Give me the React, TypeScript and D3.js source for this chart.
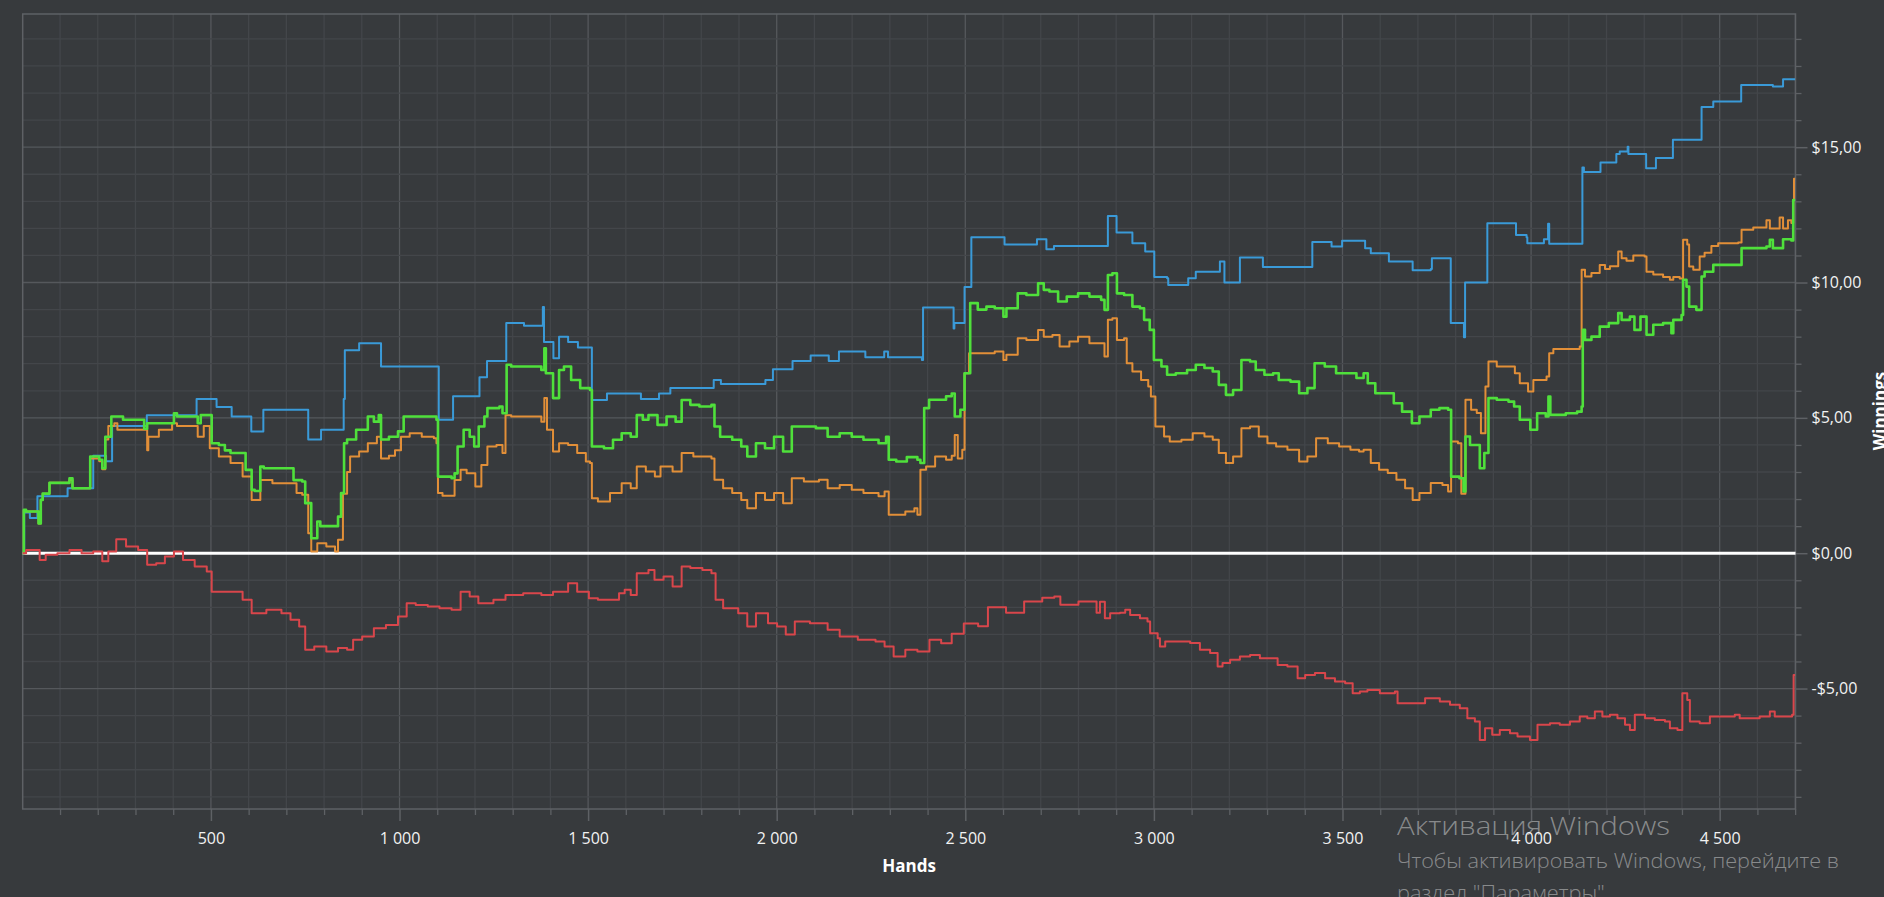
import React, { useEffect, useRef } from 'react';
import * as d3 from 'd3';

type Pt = [number, number];

// hands -> winnings ($)
const showdown: Pt[] = [
    [1, 0], [5, 1.5], [20, 1.3], [40, 2.1], [120, 2.4], [175, 2.4], [188, 3.6], [222, 3.4], [238, 4.7], [325, 4.7], [330, 5.1],
    [460, 5.1], [462, 5.7], [513, 5.7], [515, 5.4], [552, 5.4], [555, 5.05], [605, 5.05], [607, 4.5], [637, 4.5], [639, 5.3],
    [755, 5.3], [758, 4.2], [790, 4.2], [792, 4.56], [848, 4.56], [852, 5.7], [855, 7.5], [885, 7.5], [893, 7.76], [948, 7.76],
    [951, 6.9], [1102, 6.9], [1104, 4.93], [1140, 4.93], [1142, 5.8], [1205, 5.8], [1212, 6.5], [1230, 6.5], [1232, 7.1],
    [1280, 7.1], [1283, 8.5], [1328, 8.5], [1330, 8.4], [1378, 8.4], [1380, 9.1], [1383, 7.8], [1405, 7.8], [1408, 7.2],
    [1415, 7.2], [1423, 8.0], [1440, 8.0], [1447, 7.8], [1470, 7.8], [1473, 7.6], [1505, 7.6], [1510, 5.66], [1540, 5.66],
    [1550, 5.9], [1635, 5.9], [1640, 5.7], [1683, 5.7], [1688, 5.9], [1715, 5.9], [1718, 6.1], [1825, 6.1], [1833, 6.4],
    [1850, 6.4], [1852, 6.25], [1960, 6.25], [1970, 6.4], [1985, 6.4], [1990, 6.8], [2035, 6.8], [2042, 7.1], [2088, 7.1],
    [2090, 7.3], [2135, 7.3], [2138, 7.1], [2158, 7.1], [2165, 7.45], [2230, 7.45], [2235, 7.24], [2280, 7.24], [2285, 7.45],
    [2292, 7.45], [2295, 7.24], [2385, 7.14], [2388, 9.08], [2467, 9.08], [2469, 8.3], [2471, 8.5], [2495, 8.5], [2498, 9.83],
    [2513, 9.83], [2516, 11.67], [2601, 11.67], [2604, 11.4], [2685, 11.4], [2690, 11.6], [2705, 11.6], [2715, 11.23],
    [2730, 11.23], [2735, 11.35], [2875, 11.35], [2878, 12.46], [2898, 12.46], [2901, 11.85], [2936, 11.85], [2943, 11.45],
    [2974, 11.45], [2977, 11.15], [2997, 11.15], [3001, 10.2], [3035, 10.16], [3038, 9.91], [3088, 9.91], [3091, 10.16],
    [3108, 10.16], [3111, 10.4], [3170, 10.4], [3175, 10.78], [3182, 10.78], [3187, 10.0], [3222, 10.0], [3228, 10.92],
    [3283, 10.92], [3289, 10.57], [3410, 10.57], [3420, 11.5], [3468, 11.5], [3471, 11.33], [3496, 11.33], [3499, 11.54],
    [3556, 11.54], [3560, 11.27], [3570, 11.27], [3575, 11.08], [3620, 11.08], [3623, 10.78], [3683, 10.78], [3686, 10.45],
    [3734, 10.5], [3737, 10.9], [3785, 10.9], [3787, 8.5], [3816, 8.5], [3822, 7.98], [3825, 10.0], [3882, 10.0],
    [3884, 12.19], [3957, 12.19], [3960, 11.76], [3988, 11.67], [3990, 11.45], [4032, 11.45], [4034, 11.6], [4044, 11.6],
    [4045, 12.17], [4048, 11.43], [4134, 11.43], [4136, 14.25], [4140, 14.08], [4182, 14.08], [4184, 14.43], [4217, 14.43],
    [4226, 14.75], [4235, 14.84], [4253, 14.84], [4256, 15.02], [4258, 14.75], [4301, 14.75], [4305, 14.22], [4328, 14.22],
    [4331, 14.6], [4372, 14.6], [4376, 15.27], [4447, 15.27], [4452, 16.48], [4478, 16.48], [4483, 16.69], [4553, 16.69],
    [4557, 17.3], [4637, 17.3], [4641, 17.24], [4663, 17.24], [4668, 17.51], [4700, 17.51],
];

const allInAdj: Pt[] = [
    [1, 0], [4, 1.6], [10, 1.54], [38, 1.54], [43, 1.1], [49, 1.97], [54, 2.2], [70, 2.2], [72, 2.6], [117, 2.6], [125, 2.7],
    [133, 2.4], [172, 2.4], [180, 3.5], [204, 3.4], [212, 3.1], [220, 4.2], [228, 4.7], [244, 4.8], [252, 4.56], [315, 4.56],
    [331, 3.8], [334, 4.3], [362, 4.56], [386, 4.56], [397, 4.8], [410, 4.7], [457, 4.7], [465, 4.3], [481, 4.7], [497, 3.88],
    [521, 3.57], [552, 3.33], [584, 2.83], [608, 1.97], [631, 2.7], [663, 2.58], [695, 2.58], [727, 2.22], [742, 2.16],
    [758, 0.74], [766, 0.06], [782, 0.37], [806, 0.25], [829, 0.06], [837, 0.5], [850, 2.2], [861, 3.0], [869, 3.57],
    [893, 3.76], [916, 4.06], [940, 4.3], [951, 3.5], [972, 3.6], [988, 3.8], [1004, 4.3], [1027, 4.43], [1059, 4.3],
    [1091, 4.25], [1098, 4.06], [1102, 2.22], [1114, 2.12], [1138, 2.12], [1146, 2.7], [1162, 3.08], [1178, 2.95],
    [1201, 2.46], [1217, 3.26], [1233, 3.94], [1257, 4.0], [1273, 3.7], [1281, 5.1], [1296, 5.05], [1360, 5.05], [1376, 4.86],
    [1384, 5.73], [1391, 4.56], [1407, 3.76], [1423, 4.06], [1447, 4.0], [1471, 3.7], [1494, 3.39], [1505, 3.33], [1510, 2.03],
    [1526, 1.91], [1558, 2.22], [1589, 2.58], [1613, 2.4], [1629, 3.2], [1653, 3.02], [1677, 2.83], [1692, 3.2], [1724, 3.02],
    [1748, 3.7], [1779, 3.57], [1827, 3.5], [1835, 2.71], [1858, 2.4], [1882, 2.22], [1906, 1.97], [1922, 1.66], [1945, 2.22],
    [1969, 1.97], [1993, 2.22], [2017, 1.85], [2040, 2.77], [2072, 2.65], [2112, 2.71], [2135, 2.4], [2167, 2.52], [2199, 2.34],
    [2230, 2.22], [2270, 2.1], [2286, 2.28], [2297, 1.42], [2317, 1.42], [2341, 1.54], [2365, 1.66], [2373, 1.42], [2381, 3.08],
    [2396, 3.2], [2420, 3.57], [2449, 3.45], [2464, 3.6], [2472, 4.37], [2480, 3.5], [2492, 3.82], [2498, 6.65], [2510, 7.39],
    [2540, 7.39], [2578, 7.45], [2601, 7.14], [2609, 7.33], [2639, 7.94], [2662, 7.88], [2693, 8.25], [2708, 8.0], [2731, 8.06],
    [2750, 7.64], [2776, 7.82], [2799, 8.0], [2829, 7.76], [2860, 7.76], [2869, 7.27], [2878, 8.62], [2890, 8.68], [2902, 7.88],
    [2921, 7.94], [2928, 7.02], [2943, 6.71], [2966, 6.4], [2985, 6.16], [2992, 5.79], [3004, 4.68], [3027, 4.31], [3042, 4.13],
    [3073, 4.19], [3103, 4.43], [3134, 4.31], [3156, 4.19], [3172, 3.7], [3191, 3.33], [3210, 3.57], [3232, 4.62], [3255, 4.68],
    [3278, 4.31], [3301, 4.06], [3324, 3.94], [3354, 3.82], [3385, 3.39], [3407, 3.57], [3430, 4.25], [3461, 4.06], [3491, 3.94],
    [3521, 3.82], [3544, 3.76], [3556, 3.82], [3575, 3.33], [3597, 3.08], [3620, 2.96], [3643, 2.71], [3666, 2.4], [3686, 1.97],
    [3704, 2.22], [3734, 2.59], [3765, 2.52], [3780, 2.28], [3788, 4.13], [3806, 4.06], [3815, 2.2], [3826, 5.67], [3841, 5.3],
    [3856, 5.18], [3867, 4.43], [3879, 6.16], [3887, 7.08], [3909, 6.9], [3953, 6.9], [3957, 6.65], [3970, 6.28], [3988, 6.28],
    [3992, 5.97], [4006, 6.4], [4041, 6.53], [4048, 7.39], [4059, 7.54], [4120, 7.54], [4129, 7.64], [4134, 10.47], [4143, 10.22],
    [4160, 10.35], [4182, 10.65], [4196, 10.5], [4209, 10.6], [4231, 11.15], [4240, 10.9], [4253, 10.8], [4271, 11.0],
    [4301, 10.96], [4306, 10.4], [4324, 10.3], [4350, 10.2], [4368, 10.1], [4377, 10.2], [4394, 10.15], [4403, 11.58],
    [4414, 11.4], [4419, 10.59], [4430, 10.47], [4447, 10.96], [4460, 11.1], [4478, 11.35], [4496, 11.45], [4549, 11.48],
    [4558, 11.95], [4589, 12.03], [4624, 12.3], [4633, 12.0], [4659, 12.4], [4668, 12.0], [4681, 12.3], [4690, 12.2],
    [4695, 13.05], [4697, 13.83], [4700, 13.83],
];

const netWon: Pt[] = [
    [1, 0], [4, 1.6], [10, 1.54], [38, 1.54], [43, 1.1], [49, 1.97], [54, 2.2], [70, 2.2], [72, 2.6], [117, 2.6], [125, 2.77],
    [133, 2.4], [172, 2.4], [180, 3.57], [204, 3.45], [212, 3.14], [220, 4.3], [236, 5.05], [260, 5.05], [267, 4.93], [315, 4.93],
    [323, 4.6], [331, 4.8], [394, 4.8], [402, 5.17], [410, 5.05], [457, 5.05], [465, 4.8], [473, 5.1], [489, 5.1], [502, 4.06],
    [521, 4.0], [537, 3.8], [552, 3.7], [576, 3.7], [592, 3.08], [608, 2.34], [616, 2.3], [631, 3.2], [640, 3.14], [703, 3.14],
    [719, 2.7], [742, 2.65], [750, 1.85], [766, 0.55], [782, 1.17], [790, 1.0], [829, 1.0], [837, 1.35], [845, 2.22], [853, 4.06],
    [861, 4.2], [885, 4.56], [916, 5.05], [932, 4.86], [945, 5.1], [951, 4.2], [972, 4.3], [996, 4.5], [1011, 5.05], [1090, 5.05],
    [1098, 4.93], [1102, 2.83], [1138, 2.77], [1146, 2.95], [1154, 3.94], [1170, 4.56], [1186, 4.3], [1198, 3.94], [1210, 4.68],
    [1225, 5.05], [1233, 5.36], [1265, 5.42], [1273, 5.17], [1284, 6.96], [1296, 6.9], [1360, 6.9], [1376, 6.77], [1384, 7.57],
    [1388, 6.65], [1407, 5.73], [1423, 6.77], [1436, 6.9], [1455, 6.4], [1479, 6.1], [1505, 6.03], [1510, 3.94], [1542, 3.88],
    [1566, 4.19], [1589, 4.43], [1613, 4.3], [1629, 5.1], [1645, 4.93], [1660, 5.1], [1684, 4.74], [1708, 5.05], [1732, 4.86],
    [1748, 5.66], [1771, 5.48], [1795, 5.42], [1827, 5.48], [1835, 4.68], [1850, 4.3], [1882, 4.19], [1906, 3.94], [1922, 3.57],
    [1945, 4.06], [1969, 3.88], [1993, 4.3], [2017, 3.76], [2040, 4.68], [2072, 4.68], [2104, 4.62], [2135, 4.3], [2167, 4.43],
    [2199, 4.3], [2230, 4.19], [2270, 4.06], [2290, 4.3], [2297, 3.45], [2317, 3.39], [2345, 3.55], [2373, 3.45], [2381, 3.33],
    [2391, 5.36], [2404, 5.67], [2434, 5.67], [2449, 5.8], [2464, 5.9], [2472, 5.05], [2487, 5.3], [2498, 6.65], [2513, 9.24],
    [2533, 9.0], [2556, 9.11], [2578, 9.05], [2601, 8.74], [2609, 9.05], [2639, 9.6], [2662, 9.54], [2693, 9.97], [2708, 9.73],
    [2723, 9.67], [2746, 9.3], [2769, 9.48], [2799, 9.6], [2829, 9.48], [2860, 9.36], [2869, 8.99], [2878, 10.28], [2890, 10.34],
    [2902, 9.6], [2921, 9.54], [2943, 9.11], [2963, 9.05], [2974, 8.62], [2989, 8.25], [3000, 7.14], [3020, 6.9], [3035, 6.59],
    [3058, 6.65], [3088, 6.77], [3111, 6.96], [3134, 6.84], [3156, 6.71], [3172, 6.22], [3191, 5.85], [3210, 6.03], [3232, 7.14],
    [3255, 7.08], [3270, 6.77], [3293, 6.59], [3316, 6.65], [3331, 6.4], [3362, 6.34], [3385, 5.91], [3407, 6.1], [3426, 7.02],
    [3453, 6.9], [3483, 6.65], [3514, 6.65], [3537, 6.47], [3556, 6.65], [3567, 6.28], [3587, 5.91], [3613, 5.91], [3636, 5.54],
    [3658, 5.23], [3684, 4.8], [3704, 5.05], [3734, 5.3], [3757, 5.36], [3780, 5.3], [3788, 2.83], [3810, 2.77], [3821, 2.28],
    [3826, 4.31], [3838, 4.0], [3864, 3.14], [3876, 3.7], [3887, 5.73], [3909, 5.67], [3940, 5.6], [3955, 5.42], [3970, 4.93],
    [3998, 4.56], [4016, 5.17], [4039, 5.05], [4046, 5.79], [4051, 5.11], [4092, 5.17], [4122, 5.23], [4134, 5.42], [4137, 8.25],
    [4143, 7.88], [4160, 8.0], [4182, 8.37], [4206, 8.5], [4231, 8.87], [4240, 8.62], [4262, 8.74], [4274, 8.25], [4290, 8.74],
    [4301, 8.74], [4306, 8.07], [4324, 8.44], [4350, 8.5], [4372, 8.13], [4377, 8.62], [4399, 8.8], [4403, 10.1], [4412, 9.85],
    [4419, 9.11], [4438, 8.99], [4452, 10.22], [4460, 10.4], [4483, 10.65], [4549, 10.65], [4558, 11.27], [4624, 11.33],
    [4633, 11.58], [4641, 11.27], [4663, 11.27], [4668, 11.6], [4690, 11.55], [4695, 13.05], [4700, 13.05],
];

const nonShowdown: Pt[] = [
    [1, 0], [10, 0.12], [30, 0.12], [46, -0.25], [62, -0.06], [93, 0.0], [125, 0.12], [157, 0.0], [188, 0.06], [212, -0.3],
    [228, 0.06], [249, 0.52], [275, 0.25], [307, 0.12], [331, -0.43], [355, -0.37], [378, -0.12], [402, 0.06], [426, -0.25],
    [457, -0.49], [489, -0.68], [502, -1.42], [529, -1.42], [560, -1.42], [584, -1.72], [608, -2.22], [647, -2.09], [687, -2.22],
    [711, -2.46], [734, -2.71], [750, -3.57], [774, -3.45], [806, -3.63], [837, -3.5], [861, -3.57], [877, -3.2], [901, -3.08],
    [932, -2.77], [964, -2.65], [996, -2.34], [1019, -1.85], [1043, -1.91], [1075, -1.97], [1106, -2.03], [1138, -2.09],
    [1162, -1.42], [1186, -1.6], [1209, -1.85], [1249, -1.72], [1281, -1.54], [1328, -1.48], [1376, -1.54], [1407, -1.42],
    [1447, -1.11], [1471, -1.42], [1502, -1.66], [1526, -1.72], [1566, -1.72], [1582, -1.48], [1597, -1.35], [1613, -1.54],
    [1629, -0.74], [1660, -0.62], [1676, -0.98], [1700, -0.86], [1724, -1.23], [1748, -0.49], [1771, -0.55], [1803, -0.62],
    [1827, -0.74], [1838, -1.72], [1858, -2.03], [1898, -2.22], [1922, -2.71], [1945, -2.22], [1977, -2.59], [2001, -2.71],
    [2024, -3.0], [2048, -2.52], [2088, -2.59], [2135, -2.83], [2167, -3.08], [2215, -3.2], [2262, -3.26], [2286, -3.45],
    [2310, -3.82], [2341, -3.57], [2373, -3.63], [2405, -3.2], [2436, -3.33], [2464, -2.98], [2496, -2.6], [2534, -2.7],
    [2560, -2.0], [2608, -2.2], [2656, -1.78], [2704, -1.65], [2736, -1.6], [2752, -1.9], [2800, -1.78], [2848, -2.2],
    [2857, -1.79], [2870, -2.4], [2884, -2.22], [2910, -2.2], [2924, -2.09], [2937, -2.28], [2963, -2.4], [2983, -2.52],
    [2990, -2.96], [3010, -3.14], [3016, -3.45], [3030, -3.26], [3056, -3.26], [3096, -3.32], [3122, -3.57], [3149, -3.69],
    [3169, -4.19], [3182, -4.06], [3202, -3.94], [3228, -3.82], [3255, -3.76], [3281, -3.88], [3314, -3.88], [3328, -4.13],
    [3354, -4.19], [3381, -4.62], [3401, -4.5], [3427, -4.43], [3454, -4.62], [3480, -4.74], [3507, -4.8], [3527, -5.17],
    [3546, -5.11], [3566, -5.05], [3599, -5.17], [3639, -5.11], [3646, -5.54], [3679, -5.54], [3719, -5.36], [3758, -5.48],
    [3785, -5.6], [3811, -5.73], [3831, -6.1], [3851, -6.22], [3864, -6.9], [3878, -6.47], [3897, -6.71], [3917, -6.53],
    [3944, -6.65], [3964, -6.77], [3997, -6.9], [4017, -6.34], [4050, -6.28], [4076, -6.34], [4103, -6.22], [4129, -6.03],
    [4149, -6.1], [4169, -5.85], [4189, -6.03], [4209, -5.97], [4229, -6.1], [4249, -6.34], [4262, -6.53], [4275, -5.97],
    [4302, -6.1], [4328, -6.16], [4355, -6.22], [4368, -6.47], [4388, -6.53], [4401, -5.17], [4414, -5.42], [4421, -6.22],
    [4447, -6.28], [4474, -6.03], [4514, -6.03], [4540, -5.97], [4553, -6.1], [4580, -6.1], [4606, -6.03], [4633, -5.85],
    [4646, -6.03], [4692, -5.97], [4696, -4.5], [4700, -4.5],
];

const handsDomain: [number, number] = [1, 4701];
const winningsDomain: [number, number] = [-9.45, 19.92];
const xLabelTicks = [500, 1000, 1500, 2000, 2500, 3000, 3500, 4000, 4500];
const yLabelTicks = [-5, 0, 5, 10, 15];
const xMinorTicks = d3.range(100, 4701, 100);
const yMinorTicks = d3.range(-9, 20, 1);

const watermark = ['Активация Windows', 'Чтобы активировать Windows, перейдите в', 'раздел "Параметры".'];

const width = 1884;
const height = 897;
const marginLeft = 22.7;
const plotRight = 1795.5;
const marginTop = 14;
const plotBottom = 809;

const bg = '#373a3d';
const minorGrid = '#43464a';
const majorGrid = '#55585c';
const frame = '#5e6165';

const locale = d3.formatLocale({ decimal: ',', thousands: '\u00a0', grouping: [3], currency: ['$', ''], minus: '-' });
const fmtHands = locale.format(',d');
const fmtMoney = locale.format('$,.2f');

const App: React.FC = () => {
    const svgRef = useRef<SVGSVGElement | null>(null);

    useEffect(() => {
        const svg = d3.select(svgRef.current);
        svg.selectAll('*').remove();

        const x = d3.scaleLinear().domain(handsDomain).range([marginLeft, plotRight]);
        const y = d3.scaleLinear().domain(winningsDomain).range([plotBottom, marginTop]);

        svg.append('rect').attr('width', width).attr('height', height).attr('fill', bg);

        // grid
        svg.append('g')
            .selectAll('line')
            .data(xMinorTicks)
            .join('line')
            .attr('x1', d => x(d)).attr('x2', d => x(d))
            .attr('y1', marginTop).attr('y2', plotBottom)
            .attr('stroke', d => d % 500 === 0 ? majorGrid : minorGrid)
            .attr('stroke-width', 1.3);

        svg.append('g')
            .selectAll('line')
            .data(yMinorTicks)
            .join('line')
            .attr('x1', marginLeft).attr('x2', plotRight)
            .attr('y1', d => y(d)).attr('y2', d => y(d))
            .attr('stroke', d => d % 5 === 0 ? majorGrid : minorGrid)
            .attr('stroke-width', 1.3);

        // frame
        svg.append('rect')
            .attr('x', marginLeft).attr('y', marginTop)
            .attr('width', plotRight - marginLeft).attr('height', plotBottom - marginTop)
            .attr('fill', 'none').attr('stroke', frame).attr('stroke-width', 1.5);

        // bottom axis
        svg.append('g')
            .attr('transform', `translate(0, ${plotBottom})`)
            .call(d3.axisBottom(x).tickValues(xMinorTicks.filter(d => d % 500 !== 0)).tickSize(6).tickFormat(() => ''))
            .call(g => g.select('.domain').remove())
            .call(g => g.selectAll('.tick line').attr('stroke', frame).attr('stroke-width', 1.3));

        svg.append('g')
            .attr('transform', `translate(0, ${plotBottom})`)
            .call(d3.axisBottom(x).tickValues(xLabelTicks).tickSize(12).tickPadding(12).tickFormat(d => fmtHands(d as number)))
            .call(g => g.select('.domain').remove())
            .call(g => g.selectAll('.tick line').attr('stroke', frame).attr('stroke-width', 1.5))
            .call(g => g.selectAll('.tick text')
                .attr('fill', '#f2f2f2')
                .attr('font-size', 16)
                .attr('font-family', '"Open Sans", sans-serif'));

        // right axis
        svg.append('g')
            .attr('transform', `translate(${plotRight}, 0)`)
            .call(d3.axisRight(y).tickValues(yMinorTicks.filter(d => d % 5 !== 0)).tickSize(6).tickFormat(() => ''))
            .call(g => g.select('.domain').remove())
            .call(g => g.selectAll('.tick line').attr('stroke', frame).attr('stroke-width', 1.3));

        svg.append('g')
            .attr('transform', `translate(${plotRight}, 0)`)
            .call(d3.axisRight(y).tickValues(yLabelTicks).tickSize(12).tickPadding(4).tickFormat(d => fmtMoney(d as number)))
            .call(g => g.select('.domain').remove())
            .call(g => g.selectAll('.tick line').attr('stroke', frame).attr('stroke-width', 1.5))
            .call(g => g.selectAll('.tick text')
                .attr('fill', '#f2f2f2')
                .attr('font-size', 16)
                .attr('font-family', '"Open Sans", sans-serif'));

        // zero line
        svg.append('line')
            .attr('x1', marginLeft).attr('x2', plotRight)
            .attr('y1', y(0)).attr('y2', y(0))
            .attr('stroke', '#ffffff').attr('stroke-width', 3);

        const line = d3.line<Pt>()
            .curve(d3.curveStepAfter)
            .x(d => x(d[0]))
            .y(d => y(d[1]));

        const series: [Pt[], string, number][] = [
            [showdown, '#3a9ad8', 2],
            [allInAdj, '#e28f38', 2],
            [netWon, '#4fe03b', 2.6],
            [nonShowdown, '#d9464b', 2],
        ];

        series.forEach(([data, color, w]) => {
            svg.append('path')
                .datum(data)
                .attr('fill', 'none')
                .attr('stroke', color)
                .attr('stroke-width', w)
                .attr('stroke-linejoin', 'round')
                .attr('d', line);
        });

        // axis titles
        svg.append('text')
            .attr('x', (marginLeft + plotRight) / 2).attr('y', 872)
            .attr('text-anchor', 'middle')
            .attr('fill', '#ffffff')
            .attr('font-size', 17).attr('font-weight', 700)
            .attr('font-family', '"Open Sans", sans-serif')
            .text('Hands');

        svg.append('text')
            .attr('transform', 'translate(1886, 411) rotate(-90)')
            .attr('text-anchor', 'middle')
            .attr('fill', '#ffffff')
            .attr('font-size', 17).attr('font-weight', 700)
            .attr('font-family', '"Open Sans", sans-serif')
            .text('Winnings');

        // windows activation overlay
        const wm = svg.append('g')
            .attr('fill', 'rgba(255,255,255,0.42)')
            .attr('font-family', '"Open Sans", sans-serif')
            .attr('font-weight', 300);
        wm.append('text').attr('x', 1397).attr('y', 835).attr('font-size', 26)
            .attr('textLength', 273).attr('lengthAdjust', 'spacingAndGlyphs').text(watermark[0]);
        wm.append('text').attr('x', 1397).attr('y', 868).attr('font-size', 21)
            .attr('textLength', 442).attr('lengthAdjust', 'spacingAndGlyphs').text(watermark[1]);
        wm.append('text').attr('x', 1397).attr('y', 900).attr('font-size', 21)
            .attr('textLength', 213).attr('lengthAdjust', 'spacingAndGlyphs').text(watermark[2]);
    }, []);

    return (
        <svg
            ref={svgRef}
            width={width}
            height={height}
            viewBox={`0 0 ${width} ${height}`}
            style={{ position: 'absolute', left: 0, top: 0, display: 'block' }}
        ></svg>
    );
};

export default App;
